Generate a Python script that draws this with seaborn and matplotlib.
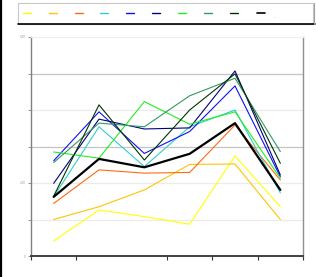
import matplotlib
matplotlib.use("Agg")
import matplotlib.pyplot as plt
from matplotlib.lines import Line2D
from matplotlib.patches import Rectangle
import seaborn as sns
import pandas as pd

# ---- data ----
categories = [0, 1, 2, 3, 4, 5]
series_names = ["S1", "S2", "S3", "S4", "S5", "S6", "S7", "S8", "S9", "S10"]
series_colors = ["#FFFF00", "#FFC400", "#FF6A10", "#33CCCC", "#1010F0",
                 "#000080", "#22EE22", "#339966", "#003300", "#000000"]
s1 = [0.41, 1.26, 1.08, 0.87, 2.74, 1.35]
s2 = [1.00, 1.35, 1.81, 2.51, 2.52, 1.00]
s3 = [1.44, 2.36, 2.27, 2.29, 3.59, 2.08]
s4 = [1.62, 3.54, 2.45, 3.54, 4.00, 1.73]
s5 = [2.61, 3.95, 2.81, 3.41, 4.66, 2.17]
s6 = [1.99, 3.75, 3.48, 3.51, 5.07, 2.22]
s7 = [2.85, 2.68, 4.23, 3.61, 3.95, 2.13]
s8 = [2.56, 3.64, 3.54, 4.39, 4.87, 2.86]
s9 = [1.64, 4.14, 2.63, 4.00, 4.99, 2.54]
s10 = [1.62, 2.66, 2.43, 2.80, 3.64, 1.81]
all_series = [s1, s2, s3, s4, s5, s6, s7, s8, s9, s10]
ytick_values = [0, 1, 2, 3, 4, 5, 6]
ytick_labels = ["0", "", "2.00", "", "", "", "6.00"]

df = pd.DataFrame({
    "x": [c for _ in all_series for c in categories],
    "value": [v for s in all_series for v in s],
    "series": [n for n, s in zip(series_names, all_series) for _ in s],
})

sns.set_theme(style="white")
plt.rcParams["font.family"] = ["DejaVu Sans"]

fig = plt.figure(figsize=(3.16, 2.77), dpi=100)
fig.patch.set_facecolor("white")
ax = fig.add_axes([31 / 316, 1 - 256 / 277, (303 - 31) / 316, (256 - 37) / 277])
ax.set_facecolor("white")

# gridlines
for g, c in [(1, "#EBEBEB"), (2, "#EBEBEB"), (3, "#C4C4C4"), (4, "#EBEBEB"), (5, "#C4C4C4")]:
    ax.axhline(g, color=c, lw=0.9, zorder=0)

handles = []
for name, color in zip(series_names, series_colors):
    lw = 1.6 if name == "S10" else 0.8
    sns.lineplot(data=df[df["series"] == name], x="x", y="value", color=color,
                 lw=lw, ax=ax, legend=False, zorder=3 if name == "S10" else 2)
    handles.append(Line2D([0], [0], color=color, lw=1.2 if name == "S10" else 1.0))

ax.set_xlim(-0.5, 5.5)
ax.set_ylim(0, 6)
ax.set_xticks([-0.5, 0.5, 2.5, 3.5, 4.5, 5.5])
ax.set_xticklabels([])
ax.set_yticks(ytick_values)
ax.set_yticklabels(ytick_labels, fontsize=2, color="#999999")
ax.tick_params(axis="x", direction="out", length=3, width=0.8, color="#333333", bottom=True)
ax.tick_params(axis="y", direction="out", length=2, width=0.6, color="#808080", left=True, pad=2)
ax.set_xlabel("")
ax.set_ylabel("")

ax.spines["bottom"].set_color("#404040")
ax.spines["bottom"].set_linewidth(1.4)
ax.spines["left"].set_color("#808080")
ax.spines["left"].set_linewidth(1.0)
ax.spines["right"].set_color("#909090")
ax.spines["right"].set_linewidth(1.0)
ax.spines["top"].set_color("#EEEEEE")
ax.spines["top"].set_linewidth(0.8)

# legend box
fig.patches.append(Rectangle((18 / 316, 1 - 24 / 277), (313 - 18) / 316, 21 / 277,
                             transform=fig.transFigure, facecolor="white",
                             edgecolor="#C8C8C8", lw=0.8, zorder=0))
fig.lines.append(Line2D([18 / 316, 315 / 316], [1 - 24.2 / 277, 1 - 24.2 / 277],
                        transform=fig.transFigure, color="black", lw=1.2))
fig.lines.append(Line2D([313.5 / 316, 313.5 / 316], [1 - 24 / 277, 1 - 3 / 277],
                        transform=fig.transFigure, color="#A0A0A0", lw=0.8))
fs = 3
px = fs * 100 / 72
fig.legend(handles, [""] * len(handles), loc="center left",
           bbox_to_anchor=(22.5 / 316, 1 - 13 / 277), ncol=10, frameon=False,
           fontsize=fs, handlelength=8 / px, handletextpad=0,
           columnspacing=18 / px, borderpad=0, borderaxespad=0)
fig.text(275 / 316, 1 - 17 / 277, "...", fontsize=2, color="#999999", ha="center", va="center")

# left black border of the figure
fig.lines.append(Line2D([0.8 / 316, 0.8 / 316], [0, 1], transform=fig.transFigure,
                        color="black", lw=1.6))

fig.savefig("out.png", dpi=100, facecolor="white")
